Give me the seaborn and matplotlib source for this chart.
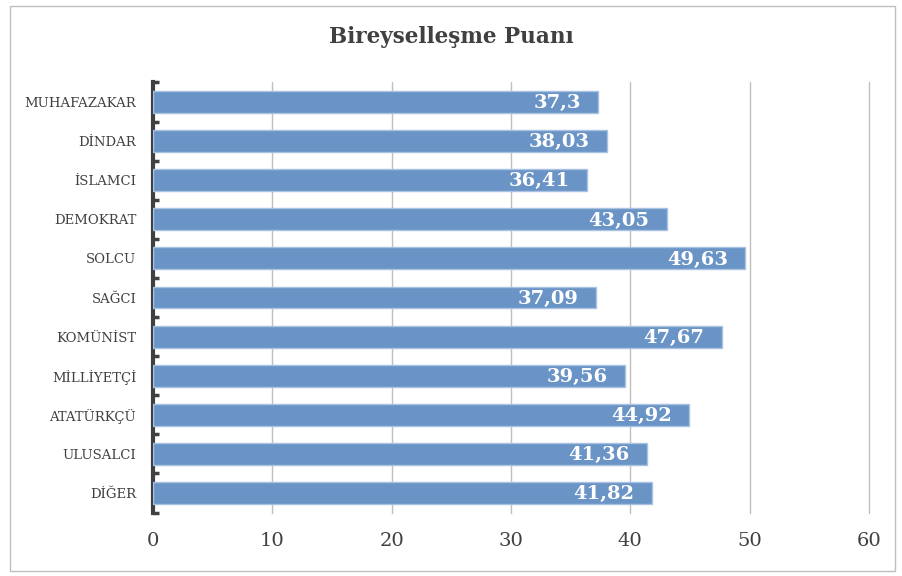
import numpy as np
import pandas as pd
import matplotlib
matplotlib.use('Agg')
import matplotlib.pyplot as plt
import seaborn as sns
from matplotlib.patches import Rectangle

categories = ['MUHAFAZAKAR', 'DİNDAR', 'İSLAMCI', 'DEMOKRAT', 'SOLCU', 'SAĞCI',
              'KOMÜNİST', 'MİLLİYETÇİ', 'ATATÜRKÇÜ', 'ULUSALCI', 'DİĞER']
scores = [37.3, 38.03, 36.41, 43.05, 49.63, 37.09, 47.67, 39.56, 44.92, 41.36, 41.82]
score_labels = ['37,3', '38,03', '36,41', '43,05', '49,63', '37,09',
                '47,67', '39,56', '44,92', '41,36', '41,82']
x_ticks = [0, 10, 20, 30, 40, 50, 60]

df = pd.DataFrame({'kategori': categories, 'puan': scores})

sns.set_style('white')
plt.rcParams['font.family'] = ['DejaVu Serif', 'DejaVu Sans']

fig = plt.figure(figsize=(9.03, 5.76), dpi=100)
ax = fig.add_axes([0.1694, 0.1102, 0.7929, 0.7466])

sns.barplot(data=df, x='puan', y='kategori', order=categories, orient='h',
            color='#6a93c6', saturation=1, width=0.56, edgecolor='#a9c2e2',
            linewidth=1, ax=ax, zorder=3)

# labels sit inside the bar end, with Excel-like padding
for i, (v, lab) in enumerate(zip(scores, score_labels)):
    ax.text(v - 1.45, i + 0.03, lab, ha='right', va='center', color='white',
            fontsize=14, fontweight='bold', zorder=4)

ax.set_xlim(0, 60)
ax.set_ylim(10.5, -0.5)
ax.set_xticks(x_ticks)
ax.set_xticklabels([str(t) for t in x_ticks], fontsize=14, color='#404040')
ax.tick_params(axis='x', length=0, pad=14)
ax.tick_params(axis='y', which='major', length=0, pad=12, labelsize=9.5, labelcolor='#404040')
ax.set_yticks(np.arange(-0.5, 11, 1), minor=True)
ax.tick_params(axis='y', which='minor', left=True, direction='in', length=4, width=2.5, color='#404040')
ax.grid(axis='x', color='#bfbfbf', linewidth=1, zorder=0)
for gl in ax.get_xgridlines():
    gl.set_clip_on(False)
ax.set_axisbelow(True)
for s in ['top', 'right', 'bottom']:
    ax.spines[s].set_visible(False)
ax.spines['left'].set_linewidth(3)
ax.spines['left'].set_color('#404040')
ax.set_xlabel('')
ax.set_ylabel('')

fig.text(0.5, 0.935, 'Bireyselleşme Puanı', ha='center', va='center',
         fontsize=15.5, fontweight='bold', color='#404040')

fig.patches.append(Rectangle((0.011, 0.009), 0.98, 0.98, transform=fig.transFigure,
                             fill=False, edgecolor='#bfbfbf', linewidth=1))

fig.savefig('out.png', dpi=100)
